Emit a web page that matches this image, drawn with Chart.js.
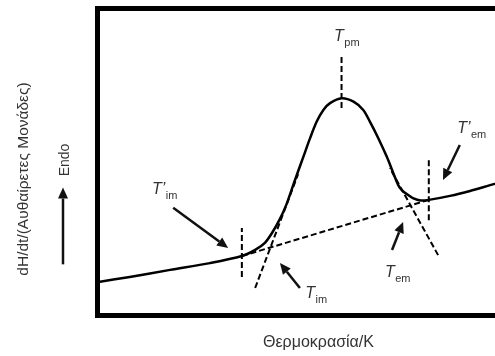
<!DOCTYPE html>
<html>
<head>
<meta charset="utf-8">
<script src="https://cdn.jsdelivr.net/npm/chart.js@4.4.0/dist/chart.umd.min.js"></script>
<style>
  html, body { margin: 0; padding: 0; background: #fff; overflow: hidden; }
  #wrap { width: 495px; height: 356px; overflow: hidden; }
</style>
</head>
<body>
<div id="wrap"><canvas id="dscChart" width="540" height="356"></canvas></div>
<script>
// DSC trace: temperature (K) vs heat flow (arbitrary units)
const temperature = [300.0, 307.4, 316.5, 325.5, 332.7, 335.7, 337.9, 339.5, 341.3, 342.7, 343.9, 345.1, 346.6, 348.1,
                     349.6, 351.1, 352.6, 355.2, 357.9, 360.1, 361.6, 363.5, 365.4, 366.9, 368.0, 368.8, 370.0, 371.3,
                     373.1, 374.9, 379.7, 384.2, 389.8, 400.0];
const heatFlow = [10.7, 12.4, 14.7, 16.9, 19.2, 21.2, 23.5, 26.7, 31.3, 35.8, 40.7, 45.6, 51.6, 57.6,
                  63.0, 66.8, 69.0, 70.6, 69.5, 66.8, 63.0, 57.6, 51.6, 46.2, 42.3, 40.7, 39.3, 38.1,
                  37.3, 37.5, 38.8, 40.4, 42.7, 46.6];

// interpolated baseline under the peak
const baselineT = [332.7, 374.9];
const baselineY = [19.2, 37.5];

// onset / endset tangents
const onsetTangentT = [335.7, 345.4];
const onsetTangentY = [8.8, 45.9];
const endsetTangentT = [377.0, 366.1];
const endsetTangentY = [19.5, 47.9];

// vertical markers at T'im, Tpm, T'em
const markerT = [332.7, 355.2, 374.9];
const markerLow = [12.4, 67.4, 30.9];
const markerHigh = [28.3, 84.7, 50.5];

// temperature labels
const labelMain = ['T', 'T’', 'T', 'T', 'T’'];
const labelSub = ['pm', 'im', 'im', 'em', 'em'];
const labelT = [353.5, 312.4, 347.0, 365.0, 381.3];
const labelY = [89.2, 39.4, 5.5, 12.4, 59.3];

// arrows pointing at the characteristic temperatures
const arrowFromT = [317.2, 345.8, 366.6, 381.9];
const arrowFromY = [34.9, 8.8, 21.2, 55.4];
const arrowToT = [329.6, 341.3, 369.1, 378.1];
const arrowToY = [21.8, 16.9, 30.3, 44.0];

const yTitle = 'dH/dt/(Αυθαίρετες Μονάδες)';
const FONT = '"Liberation Sans", Arial, sans-serif';

const toPoints = (xs, ys) => xs.map((x, i) => ({ x: x, y: ys[i] }));

const dashed = (data) => ({
    data: data,
    borderColor: '#000',
    borderWidth: 2,
    borderDash: [6, 3],
    pointRadius: 0,
    tension: 0,
    fill: false
});

function drawArrow(ctx, x1, y1, x2, y2, head, halfWidth) {
    const a = Math.atan2(y2 - y1, x2 - x1);
    const bx = x2 - head * Math.cos(a);
    const by = y2 - head * Math.sin(a);
    ctx.beginPath();
    ctx.moveTo(x1, y1);
    ctx.lineTo(bx, by);
    ctx.stroke();
    ctx.beginPath();
    ctx.moveTo(x2, y2);
    ctx.lineTo(bx + halfWidth * Math.sin(a), by - halfWidth * Math.cos(a));
    ctx.lineTo(bx - halfWidth * Math.sin(a), by + halfWidth * Math.cos(a));
    ctx.closePath();
    ctx.fill();
}

const annotations = {
    id: 'annotations',
    afterDatasetsDraw(chart) {
        const ctx = chart.ctx;
        const xs = chart.scales.x;
        const ys = chart.scales.y;
        const left = chart.chartArea.left;
        ctx.save();
        ctx.strokeStyle = '#111';
        ctx.fillStyle = '#111';
        ctx.lineWidth = 2.5;
        arrowFromT.forEach((t, i) => {
            drawArrow(ctx,
                xs.getPixelForValue(t), ys.getPixelForValue(arrowFromY[i]),
                xs.getPixelForValue(arrowToT[i]), ys.getPixelForValue(arrowToY[i]), 11, 5);
        });

        ctx.fillStyle = '#333';
        ctx.textBaseline = 'alphabetic';
        labelMain.forEach((m, i) => {
            const px = xs.getPixelForValue(labelT[i]);
            const py = ys.getPixelForValue(labelY[i]);
            ctx.font = 'italic 16px ' + FONT;
            ctx.fillText(m, px, py);
            const w = ctx.measureText(m).width;
            ctx.font = '11px ' + FONT;
            ctx.fillText(labelSub[i], px + w + 0.5, py + 5);
        });

        // "Endo" direction arrow beside the y axis
        const ex = left - 34;
        ctx.strokeStyle = '#111';
        ctx.fillStyle = '#111';
        ctx.lineWidth = 2.5;
        drawArrow(ctx, ex, ys.getPixelForValue(16.5), ex, ys.getPixelForValue(41.5), 11, 5);

        ctx.fillStyle = '#333';
        ctx.textAlign = 'center';
        ctx.textBaseline = 'middle';
        ctx.save();
        ctx.translate(left - 32, ys.getPixelForValue(50.5));
        ctx.rotate(-Math.PI / 2);
        ctx.font = '14px ' + FONT;
        ctx.fillText('Endo', 0, 0);
        ctx.restore();

        // y axis title
        ctx.translate(left - 73, ys.getPixelForValue(44.3));
        ctx.rotate(-Math.PI / 2);
        ctx.font = '15.5px ' + FONT;
        ctx.fillText(yTitle, 0, 0);
        ctx.restore();
    }
};

const ctx = document.getElementById('dscChart').getContext('2d');

const datasets = [
    {
        data: toPoints(temperature, heatFlow),
        borderColor: '#000',
        borderWidth: 2.5,
        pointRadius: 0,
        tension: 0.3,
        fill: false
    },
    dashed(toPoints(baselineT, baselineY)),
    dashed(toPoints(onsetTangentT, onsetTangentY)),
    dashed(toPoints(endsetTangentT, endsetTangentY))
];
markerT.forEach((t, i) => {
    datasets.push(dashed([{ x: t, y: markerLow[i] }, { x: t, y: markerHigh[i] }]));
});

const hidden = { display: false };
const frame = { display: true, width: 5, color: '#000' };

new Chart(ctx, {
    type: 'line',
    data: { datasets: datasets },
    options: {
        responsive: false,
        animation: false,
        layout: { padding: { left: 97, top: 8, right: 0, bottom: 0 } },
        plugins: { legend: hidden, tooltip: { enabled: false } },
        scales: {
            x: {
                type: 'linear',
                position: 'bottom',
                min: 300,
                max: 400,
                ticks: hidden,
                grid: { display: false, drawTicks: false },
                border: frame,
                title: {
                    display: true,
                    text: 'Θερμοκρασία/K',
                    color: '#333',
                    font: { family: FONT, size: 16 },
                    padding: { top: 18.4, bottom: 3.4 }
                }
            },
            x2: {
                type: 'linear',
                position: 'top',
                display: true,
                min: 300,
                max: 400,
                ticks: hidden,
                grid: { display: false, drawTicks: false },
                border: frame
            },
            y: {
                type: 'linear',
                min: 0,
                max: 100,
                ticks: hidden,
                grid: { display: false, drawTicks: false },
                border: frame
            }
        }
    },
    plugins: [annotations]
});
</script>
</body>
</html>
